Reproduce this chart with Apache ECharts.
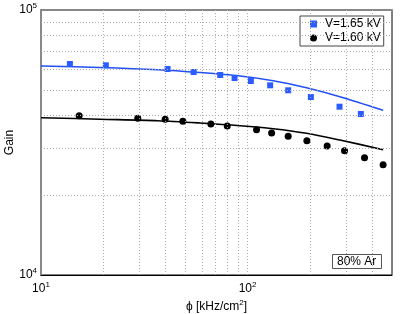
<!DOCTYPE html>
<html>
<head>
<meta charset="utf-8">
<script src="https://cdn.jsdelivr.net/npm/echarts@6/dist/echarts.min.js"></script>
<style>
html,body{margin:0;padding:0;background:#fff;}
#c{width:409px;height:314px;}
</style>
</head>
<body>
<div id="c"></div>
<script>
// ---- data ----
const blueX = [13.8, 20.6, 41.0, 54.8, 73.7, 86.5, 103.7, 128.6, 157.2, 202.4, 278.6, 353.3];
const blueY = [62550, 61850, 59900, 58340, 56840, 55380, 53960, 51970, 49770, 46950, 43160, 40500];
const blackX = [15.3, 29.4, 39.9, 48.6, 66.4, 79.7, 110.5, 130.7, 157.2, 193.6, 242.7, 294.6, 368.1, 452.9];
const blackY = [39910, 39020, 38680, 38020, 37140, 36500, 35340, 34340, 33370, 32120, 30670, 29440, 27710, 26080];
const fitX = [10, 19.3, 36.8, 58.8, 91.8, 133.0, 192.9, 279.7, 452.9];
const blueFitY = [61470, 60700, 59530, 58090, 56360, 54110, 50900, 47090, 41830];
const blackFitY = [39230, 38720, 38220, 37470, 36600, 35650, 34250, 32310, 29710];
const xGridValues = [20, 30, 40, 50, 60, 70, 80, 90, 100, 200, 300, 400];
const yGridValues = [20000, 30000, 40000, 50000, 60000, 70000, 80000, 90000];
const seriesNames = ['V=1.65 kV', 'V=1.60 kV'];
const boxText = '80% Ar';

const zip = (a, b) => a.map((v, i) => [v, b[i]]);
const FONT = 'Liberation Sans, Arial, sans-serif';
const powLabel = v => {
  const e = Math.log10(v);
  if (Math.abs(e - Math.round(e)) > 1e-6) return '';
  return '{b|10}{s|' + Math.round(e) + '}';
};
const richLbl = {
  b: {fontSize: 12, fontFamily: FONT, color: '#000'},
  s: {fontSize: 8, fontFamily: FONT, color: '#000', padding: [0, 0, 8, 0]}
};

const chart = echarts.init(document.getElementById('c'), null, {renderer: 'canvas'});
chart.setOption({
  animation: false,
  backgroundColor: '#fff',
  textStyle: {fontFamily: FONT},
  grid: {left: 41, right: 17, top: 10, bottom: 39, containLabel: false, outerBoundsMode: 'none',
    show: true, borderColor: '#000', borderWidth: 1, backgroundColor: 'transparent'},
  title: {
    text: boxText, left: 332, top: 254,
    padding: [2, 5, 1, 5], borderColor: '#555', borderWidth: 1,
    textStyle: {fontSize: 12, fontWeight: 'normal', color: '#000', fontFamily: FONT}
  },
  legend: {
    data: [{name: seriesNames[0], icon: 'rect'}, {name: seriesNames[1], icon: 'circle'}],
    orient: 'vertical', left: 300, top: 16,
    itemWidth: 7, itemHeight: 7, itemGap: 2,
    padding: [2, 3, 2, 10],
    borderColor: '#444', borderWidth: 1, backgroundColor: '#fff',
    textStyle: {fontSize: 12, color: '#000', fontFamily: FONT, padding: [0, 0, 0, 3]}
  },
  xAxis: [{
    type: 'log', logBase: 10, min: 10, max: 500,
    name: 'ϕ [kHz/cm{s|2}]', nameLocation: 'middle', nameGap: 24, nameMoveOverlap: false,
    nameTextStyle: {fontSize: 12, color: '#000', fontFamily: FONT,
      rich: {s: {fontSize: 8, padding: [0, 0, 8, 0], color: '#000'}}},
    axisLine: {show: true, lineStyle: {color: '#000', width: 1}},
    axisTick: {show: false},
    splitLine: {show: false},
    axisLabel: {formatter: powLabel, rich: richLbl, margin: 6, showMaxLabel: false}
  }, {
    type: 'log', logBase: 10, min: 10, max: 500, position: 'top',
    axisLine: {show: true, lineStyle: {color: '#888', width: 2}},
    axisTick: {show: false}, axisLabel: {show: false}, splitLine: {show: false}
  }],
  yAxis: {
    type: 'log', logBase: 10, min: 10000, max: 100000,
    name: 'Gain', nameLocation: 'middle', nameGap: 25, nameMoveOverlap: false,
    nameTextStyle: {fontSize: 12, color: '#000', fontFamily: FONT},
    axisLine: {show: true, lineStyle: {color: '#888', width: 2}},
    axisTick: {show: false},
    splitLine: {show: false},
    axisLabel: {formatter: powLabel, rich: richLbl, margin: 4}
  },
  series: [
    {
      type: 'line', name: 'grid', data: [], z: 1, silent: true,
      markLine: {
        silent: true, symbol: 'none', label: {show: false},
        lineStyle: {type: [1, 2], color: '#aaa', width: 1},
        data: xGridValues.map(v => ({xAxis: v})).concat(yGridValues.map(v => ({yAxis: v})))
      }
    },
    {
      type: 'line', name: 'fit165', data: zip(fitX, blueFitY), smooth: 0.3,
      showSymbol: false, symbol: 'none', z: 2,
      lineStyle: {color: '#2250f5', width: 1.6}
    },
    {
      type: 'line', name: 'fit160', data: zip(fitX, blackFitY), smooth: 0.3,
      showSymbol: false, symbol: 'none', z: 2,
      lineStyle: {color: '#000', width: 1.6}
    },
    {
      type: 'scatter', name: seriesNames[0], data: zip(blueX, blueY),
      symbol: 'rect', symbolSize: 6, z: 3,
      itemStyle: {color: '#2a5cff', opacity: 1}
    },
    {
      type: 'scatter', name: seriesNames[1], data: zip(blackX, blackY),
      symbol: 'circle', symbolSize: 7, z: 3,
      itemStyle: {color: '#000', opacity: 1}
    }
  ]
});
</script>
</body>
</html>
